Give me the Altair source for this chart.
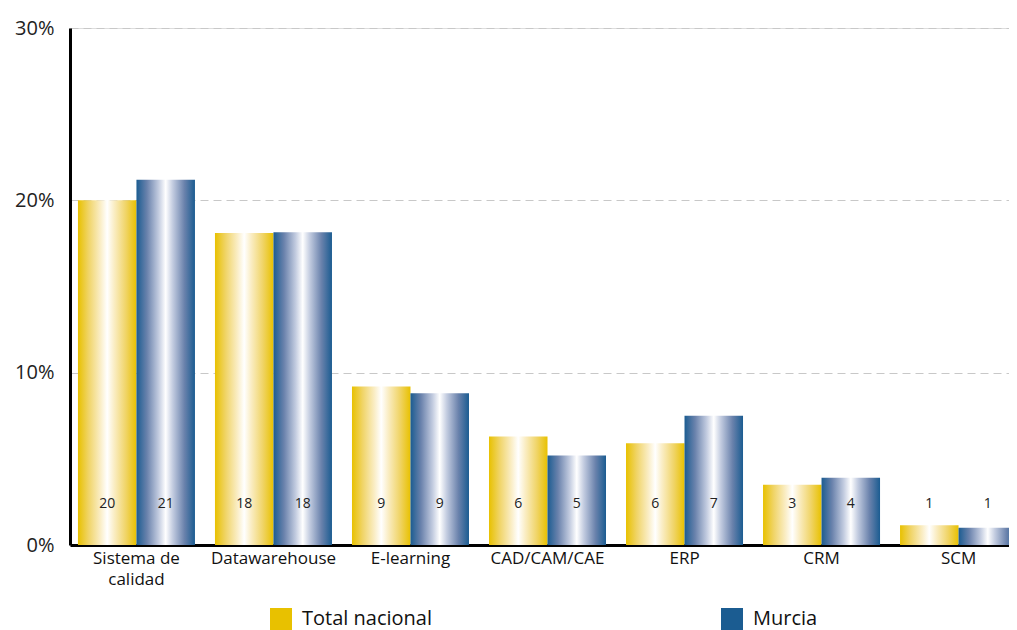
import altair as alt
import pandas as pd

categories = ["Sistema de calidad", "Datawarehouse", "E-learning", "CAD/CAM/CAE", "ERP", "CRM", "SCM"]
series = ["Total nacional", "Murcia"]
total_values = [20.0, 18.1, 9.2, 6.3, 5.9, 3.5, 1.15]
murcia_values = [21.2, 18.15, 8.8, 5.2, 7.5, 3.9, 1.0]
total_labels = ["20", "18", "9", "6", "6", "3", "1"]
murcia_labels = ["21", "18", "9", "5", "7", "4", "1"]
y_ticks = [0, 10, 20, 30]

rows = []
for c, v, l in zip(categories, total_values, total_labels):
    rows.append({"cat": c, "serie": series[0], "value": v, "label": l})
for c, v, l in zip(categories, murcia_values, murcia_labels):
    rows.append({"cat": c, "serie": series[1], "value": v, "label": l})
df = pd.DataFrame(rows)

YELLOW = "#E8C100"
BLUE = "#1B5C91"
FONT = "Open Sans"

def grad(stops):
    return alt.LinearGradient(
        gradient="linear", x1=0, x2=1, y1=0, y2=0,
        stops=[alt.GradientStop(color=c, offset=o) for o, c in stops],
    )

yellow_grad = grad([(0, YELLOW), (0.18, "#F0D466"), (0.38, "#FAEDC4"), (0.5, "#FFFFFF"),
                    (0.62, "#FAEDC4"), (0.82, "#F0D466"), (1, YELLOW)])
blue_grad = grad([(0, BLUE), (0.18, "#6A82AC"), (0.38, "#C3CCE0"), (0.5, "#FFFFFF"),
                  (0.62, "#C3CCE0"), (0.82, "#6A82AC"), (1, BLUE)])

x_enc = alt.X("cat:N", sort=categories,
              scale=alt.Scale(domain=categories, range=[0, 955], paddingInner=0.146, paddingOuter=0.058),
              axis=alt.Axis(title=None, labelAngle=0, ticks=False, labelPadding=5,
                            labelFontSize=17, labelColor="#111", labelFont=FONT, labelLimit=300,
                            labelLineHeight=21,
                            domainColor="#000", domainWidth=3,
                            labelExpr="datum.value == 'Sistema de calidad' ? ['Sistema de', 'calidad'] : datum.value"))
xo_enc = alt.XOffset("serie:N", sort=series, scale=alt.Scale(domain=series, paddingInner=0, paddingOuter=0))
y_enc = alt.Y("value:Q", scale=alt.Scale(domain=[0, 30], nice=False),
              axis=alt.Axis(title=None, values=y_ticks, labelExpr="datum.value + '%'",
                            ticks=False, labelPadding=16, labelFontSize=20, labelColor="#222",
                            labelFont=FONT, domainColor="#000", domainWidth=3,
                            grid=True, gridColor="#C8C8C8", gridDash=[8, 5], gridWidth=1))

base = alt.Chart(df)

bars_total = base.transform_filter(alt.datum.serie == series[0]).mark_bar(fill=yellow_grad).encode(
    x=x_enc, xOffset=xo_enc, y=y_enc)
bars_murcia = base.transform_filter(alt.datum.serie == series[1]).mark_bar(fill=blue_grad).encode(
    x=x_enc, xOffset=xo_enc, y=y_enc)

labels = base.mark_text(fontSize=14, font=FONT, color="#222", baseline="middle").encode(
    x=x_enc, xOffset=xo_enc, y=alt.datum(2.4), text="label:N")

legend_layer = base.mark_square(opacity=0).encode(
    x=x_enc, xOffset=xo_enc, y=alt.datum(0),
    color=alt.Color("serie:N", sort=series,
                    scale=alt.Scale(domain=series, range=[YELLOW, BLUE]),
                    legend=alt.Legend(title=None, orient="none", legendX=200, legendY=580,
                                      direction="horizontal", columns=2, columnPadding=289,
                                      symbolType="square", symbolSize=484, symbolOpacity=1,
                                      symbolStrokeWidth=0, labelFontSize=20, labelFont=FONT,
                                      labelColor="#111", labelOffset=10, labelLimit=300)))

chart = alt.layer(bars_total, bars_murcia, labels, legend_layer).properties(
    width=939, height=517,
    autosize=alt.AutoSizeParams(type="none"),
    padding={"left": 62, "top": 20, "right": 0, "bottom": 100},
).configure_view(stroke=None).configure(background="white")

chart.save("out.html", embed_options={"renderer": "svg", "actions": False})
